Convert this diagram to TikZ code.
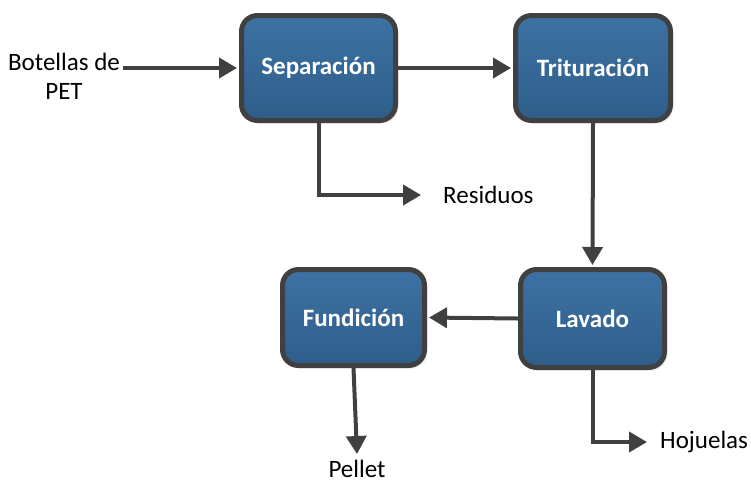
\documentclass[tikz,border=0pt]{standalone}
\usepackage{fontspec}
\setmainfont{Carlito}
\usetikzlibrary{positioning,arrows.meta,shadows}

\definecolor{boxtop}{RGB}{62,114,163}
\definecolor{boxbot}{RGB}{46,93,138}
\definecolor{edgegray}{RGB}{64,64,64}

\begin{document}
\begin{tikzpicture}[x=1pt,y=-1pt,>={Triangle[length=18pt,width=20pt]},every text node part/.style={align=center}]
		\tikzstyle{every node}=[font=\fontsize{25}{29}\selectfont];
		\tikzstyle{proc}=[draw=edgegray,line width=5pt,rounded corners=16pt,top color=boxtop,bottom color=boxbot,text=white,font=\bfseries\fontsize{25}{29}\selectfont,drop shadow={shadow xshift=3pt,shadow yshift=-3pt,fill=black!12}];
		\tikzstyle{flow}=[->,draw=edgegray,line width=4pt,shorten >=2pt];
		\useasboundingbox (0,0) rectangle (751,483);

		\node[proc,minimum width=154pt,minimum height=105pt] (sep) at (318.5,68) {Separación};
		\node[proc,minimum width=155pt,minimum height=105pt] (trit) at (593,68) {Trituración};
		\node[proc,minimum width=144pt,minimum height=98pt] (lav) at (592.5,318.5) {Lavado};
		\node[proc,minimum width=142pt,minimum height=96pt] (fun) at (353.5,317.5) {Fundición};

		\node[inner sep=3pt] (bot) at (64,76) {Botellas de\\PET};
		\node[anchor=west,inner sep=3pt] (res) at (440,195) {Residuos};
		\node[anchor=west,inner sep=3pt] (hoj) at (657,442) {Hojuelas};
		\node[inner sep=3pt] (pel) at (357,469) {Pellet};

		\draw[flow] (bot.east |- sep.west) -- (sep.west);
		\draw[flow] (sep.east) -- (trit.west);
		\draw[flow,shorten >=0pt] (sep.south) |- ([xshift=-19pt]res.west);
		\draw[flow] (trit.south) -- (lav.north);
		\draw[flow] (lav.west) -- (fun.east);
		\draw[flow,shorten >=0pt] (fun.south) -- ([yshift=3pt]pel.north);
		\draw[flow,shorten >=0pt] (lav.south) |- ([xshift=-10pt]hoj.west);
	\end{tikzpicture}
\end{document}
